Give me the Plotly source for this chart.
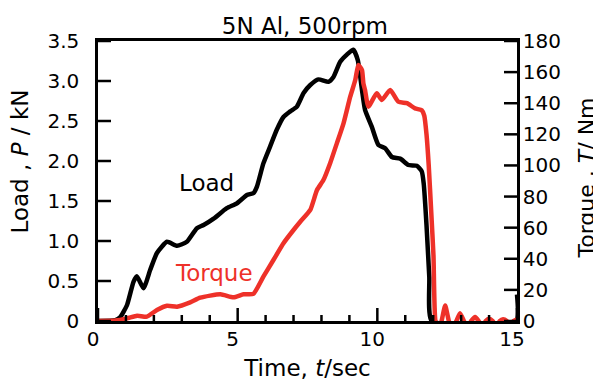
import plotly.graph_objects as go

# ---- data ----
load_t = [0, 0.62, 0.80, 1.04, 1.27, 1.39, 1.63, 1.87, 2.11, 2.47, 2.83, 3.18, 3.54, 3.78,
          4.14, 4.61, 4.97, 5.33, 5.57, 5.69, 5.92, 6.16, 6.40, 6.64, 6.88, 7.12, 7.36,
          7.60, 7.89, 8.25, 8.43, 8.67, 8.91, 9.14, 9.30, 9.45, 9.56, 9.80, 10.04, 10.28,
          10.52, 10.82, 11.11, 11.41, 11.59, 11.66, 11.76, 11.86, 11.95, 14.97, 15.0]
load_p = [0, 0.01, 0.05, 0.20, 0.49, 0.56, 0.41, 0.64, 0.85, 0.99, 0.94, 0.99, 1.16, 1.20,
          1.28, 1.41, 1.47, 1.575, 1.60, 1.68, 1.97, 2.18, 2.39, 2.55, 2.62, 2.68, 2.85,
          2.95, 3.02, 2.99, 3.05, 3.24, 3.33, 3.39, 3.26, 2.89, 2.64, 2.43, 2.20, 2.16,
          2.05, 2.03, 1.95, 1.94, 1.87, 1.72, 1.20, 0.55, 0, 0, 0.33]

torque_t = [0, 0.62, 1.04, 1.40, 1.75, 2.11, 2.47, 2.83, 3.30, 3.66, 4.38, 4.85, 5.21,
            5.56, 5.92, 6.28, 6.64, 7.00, 7.24, 7.60, 7.84, 8.07, 8.31, 8.55, 8.79, 9.03,
            9.21, 9.32, 9.45, 9.50, 9.56, 9.68, 9.98, 10.16, 10.46, 10.75, 11.06, 11.35,
            11.59, 11.68, 11.76, 11.84, 11.93, 12.01, 12.08,
            12.20, 12.30, 12.43, 12.56, 12.70, 12.83, 12.96, 13.10, 13.23, 13.36, 13.50,
            13.63, 13.76, 13.88, 14.00, 14.13, 14.26, 14.38, 14.50, 14.63, 14.76, 14.88, 15.0]
torque_v = [0, 0.3, 1.7, 3.4, 2.8, 7.1, 9.8, 9.2, 12.0, 15.0, 17.2, 15.2, 17.2,
            17.4, 28.5, 39.2, 50.0, 58.5, 63.8, 71.4, 84.2, 90.6, 101.4, 114.2, 127.1, 144.2,
            154.9, 164.6, 161.4, 152.8, 148.5, 137.8, 146.4, 142.1, 148.5, 141.0, 140.0, 136.7,
            135.5, 132.0, 120.0, 100.0, 70.0, 42.0, 0,
            -5, 0, 10, 0, -5, 0, 5, 0, -4, 0, 2.5,
            0, -4, 0, 1.5, 0, -4, 0, 1.2, 0, -4, 0, 1.0]

x_ticks = [0, 5, 10, 15]
x_minor_ticks = [1, 2, 3, 4, 6, 7, 8, 9, 11, 12, 13, 14]
load_ticks = [0, 0.5, 1.0, 1.5, 2.0, 2.5, 3.0, 3.5]
load_tick_text = ["0", "0.5", "1.0", "1.5", "2.0", "2.5", "3.0", "3.5"]
torque_ticks = [0, 20, 40, 60, 80, 100, 120, 140, 160, 180]

RED = "#ee3129"
FONT = "DejaVu Sans"

fig = go.Figure()
fig.add_trace(go.Scatter(x=load_t, y=load_p, mode="lines", yaxis="y",
                         line=dict(color="black", width=4.5, shape="spline", smoothing=0.5),
                         showlegend=False))
fig.add_trace(go.Scatter(x=torque_t, y=torque_v, mode="lines", yaxis="y2",
                         line=dict(color=RED, width=4.5, shape="spline", smoothing=0.5),
                         showlegend=False))

# inward tick marks, placed at the tick values through the axes (length in pixels)
tick_line = dict(color="black", width=2.5)
shapes = []
for v in x_ticks:
    shapes.append(dict(type="line", xref="x", yref="paper", ysizemode="pixel", yanchor=0,
                       x0=v, x1=v, y0=0, y1=13, line=tick_line))
for v in x_minor_ticks:
    shapes.append(dict(type="line", xref="x", yref="paper", ysizemode="pixel", yanchor=0,
                       x0=v, x1=v, y0=0, y1=6, line=tick_line))
for v in load_ticks:
    shapes.append(dict(type="line", xref="paper", yref="y", xsizemode="pixel", xanchor=0,
                       x0=0, x1=13, y0=v, y1=v, line=tick_line))
for v in torque_ticks:
    shapes.append(dict(type="line", xref="paper", yref="y2", xsizemode="pixel", xanchor=1,
                       x0=0, x1=-13, y0=v, y1=v, line=tick_line))

# the page body adds an 8 px offset, so the figure is laid out 8 px up/left
fig.update_layout(
    width=601, height=383,
    margin=dict(l=90, r=92, t=33, b=70, autoexpand=False),
    paper_bgcolor="white", plot_bgcolor="white",
    font=dict(family=FONT, size=20, color="black"),
    title=dict(text="5N Al, 500rpm", x=0.494, xanchor="center", y=0.952, yanchor="middle",
               font=dict(size=23)),
    xaxis=dict(range=[0, 15], tickvals=x_ticks, ticks="", showline=True,
               linecolor="black", linewidth=2.5, mirror=True, showgrid=False,
               zeroline=False, automargin=False, ticklabelshift=-5, ticklabelstandoff=-2,
               title=dict(text="Time, <i>t</i>/sec", font=dict(size=23), standoff=11)),
    yaxis=dict(range=[0, 3.5], tickvals=load_ticks, ticktext=load_tick_text, ticks="",
               showline=True, linecolor="black", linewidth=2.5, showgrid=False,
               zeroline=False, ticklabelstandoff=12, automargin=False),
    yaxis2=dict(range=[0, 180], tickvals=torque_ticks, overlaying="y", side="right",
                ticks="", showline=True, linecolor="black", linewidth=2.5,
                showgrid=False, zeroline=False, ticklabelstandoff=-1, automargin=False),
    shapes=shapes,
    annotations=[
        dict(text="Load , <i>P</i> / kN", xref="paper", yref="paper", x=-0.186, y=0.570,
             xanchor="center", yanchor="middle", textangle=-90, showarrow=False,
             font=dict(size=23)),
        dict(text="Torque , <i>T</i>/ Nm", xref="paper", yref="paper", x=1.167, y=0.5125,
             xanchor="center", yanchor="middle", textangle=-90, showarrow=False,
             font=dict(size=22)),
        dict(text="Load", xref="x", yref="y", x=3.89, y=1.72, xanchor="center",
             yanchor="middle", showarrow=False, font=dict(size=23, color="black")),
        dict(text="Torque", xref="x", yref="y", x=4.17, y=0.60, xanchor="center",
             yanchor="middle", showarrow=False, font=dict(size=23, color=RED)),
    ],
)

fig.write_html("out.html")
